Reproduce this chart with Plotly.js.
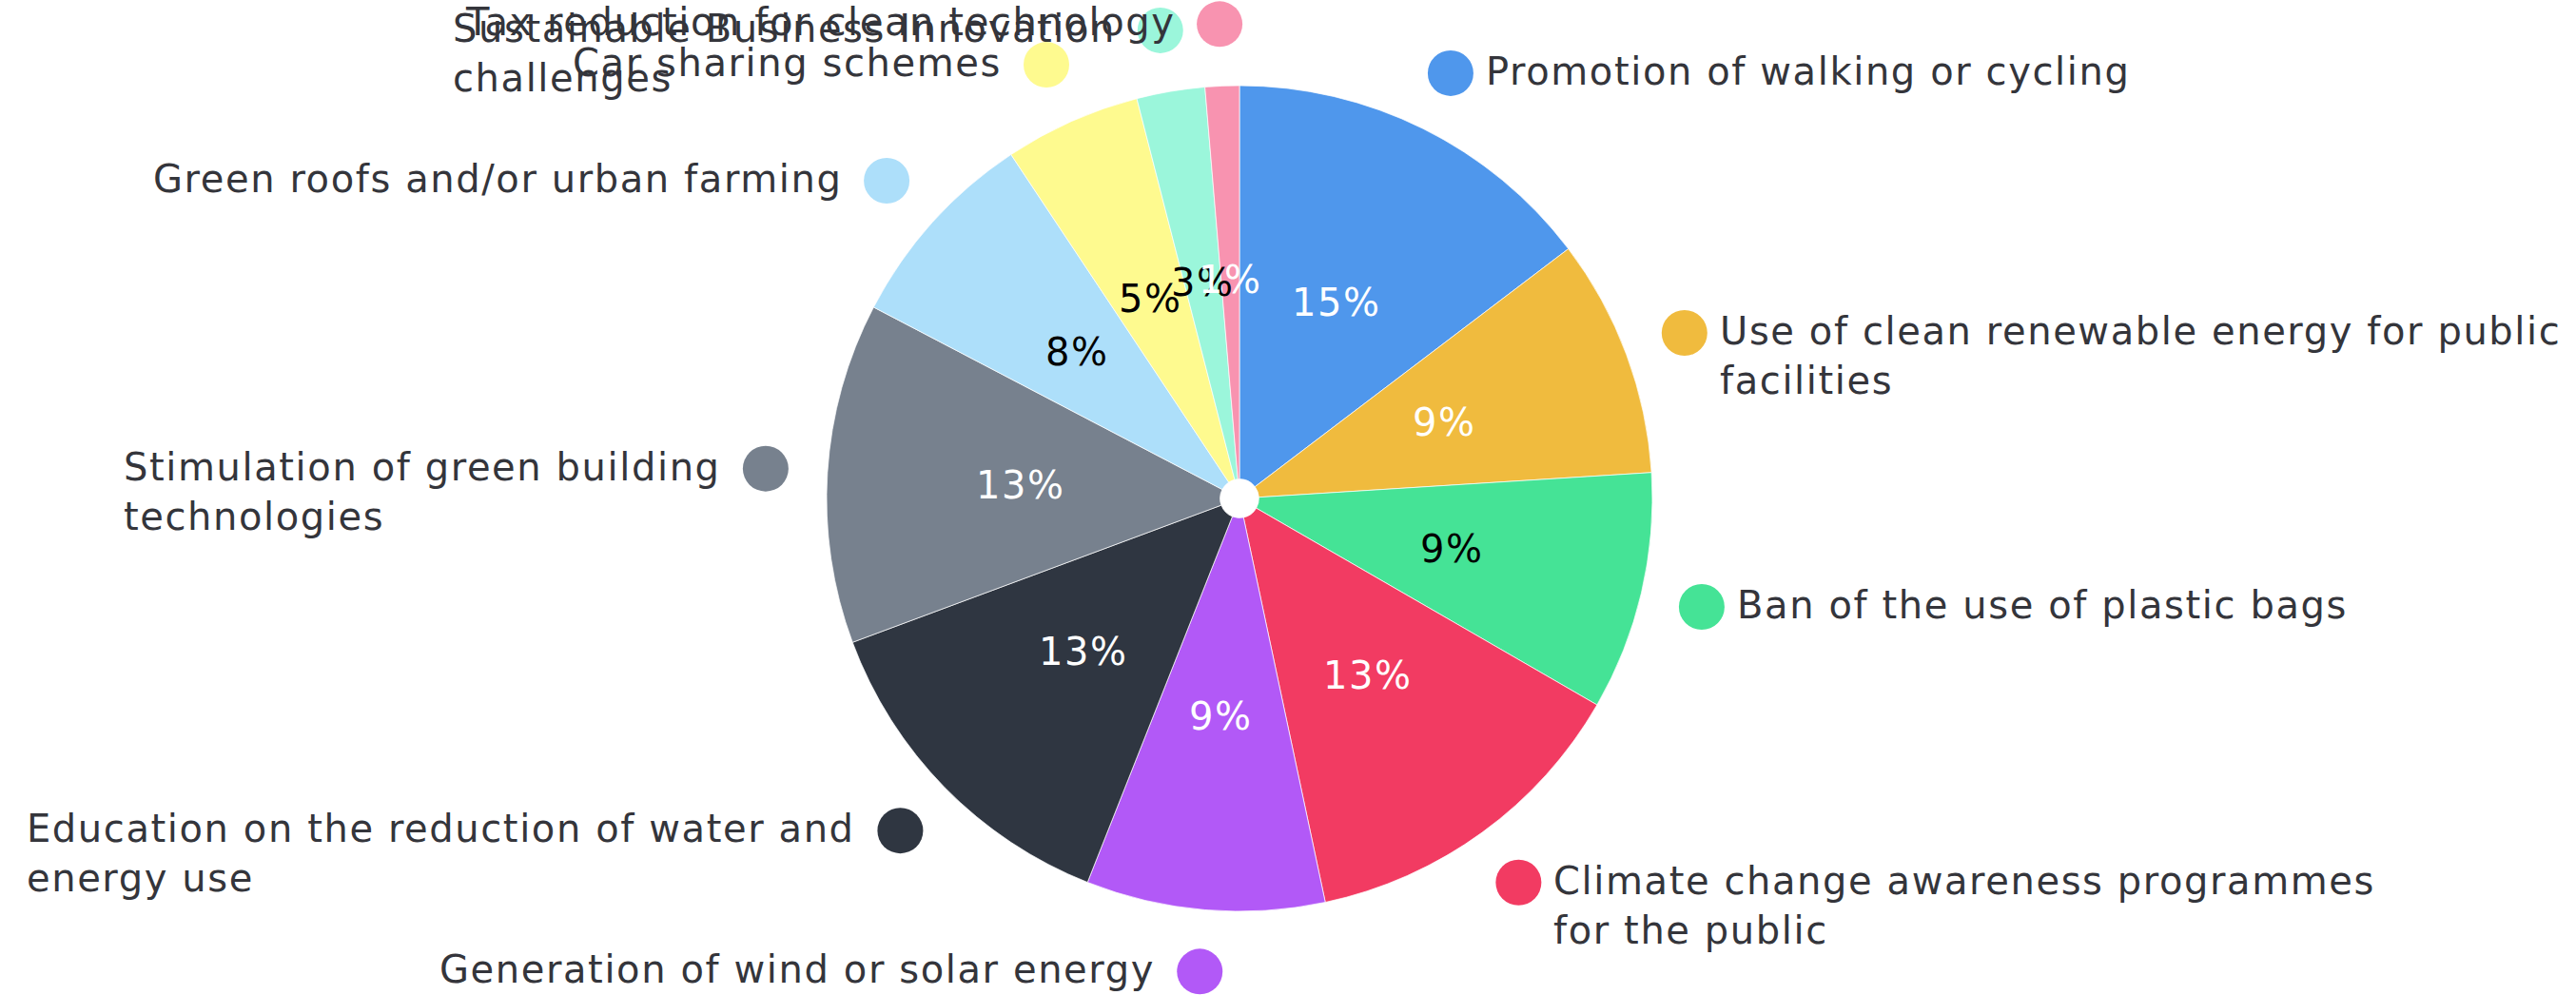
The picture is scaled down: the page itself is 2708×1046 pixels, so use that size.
<!DOCTYPE html>
<html>
<head>
<meta charset="utf-8">
<script src="https://cdn.plot.ly/plotly-3.0.1.min.js"></script>
<style>
html,body{margin:0;padding:0;background:#ffffff;overflow:hidden;}
.annotation-text{letter-spacing:1.6px;}
</style>
</head>
<body>
<div id="chart" style="width:2708px;height:1046px;"></div>
<script>
// ---- data ----
const categories = [
  "Promotion of walking or cycling",
  "Use of clean renewable energy for public facilities",
  "Ban of the use of plastic bags",
  "Climate change awareness programmes for the public",
  "Generation of wind or solar energy",
  "Education on the reduction of water and energy use",
  "Stimulation of green building technologies",
  "Green roofs and/or urban farming",
  "Car sharing schemes",
  "Sustainable Business Innovation challenges",
  "Tax reduction for clean technology"
];
const displayLabels = [
  "Promotion of walking or cycling",
  "Use of clean renewable energy for public<br>facilities",
  "Ban of the use of plastic bags",
  "Climate change awareness programmes<br>for the public",
  "Generation of wind or solar energy",
  "Education on the reduction of water and<br>energy use",
  "Stimulation of green building<br>technologies",
  "Green roofs and/or urban farming",
  "Car sharing schemes",
  "Sustainable Business Innovation<br>challenges",
  "Tax reduction for clean technology"
];
const counts = [11, 7, 7, 10, 7, 10, 10, 6, 4, 2, 1];
const sliceColors = ["#4F97EC", "#F0BB3E", "#45E396", "#F23B62", "#B259F7", "#2F3641",
                     "#77818E", "#ADDFFA", "#FEFA8F", "#9BF6DB", "#F893B0"];
const pctColors = ["#ffffff", "#ffffff", "#000000", "#ffffff", "#ffffff", "#ffffff",
                   "#ffffff", "#000000", "#000000", "#000000", "#ffffff"];

// ---- layout constants ----
const W = 2708, H = 1046, CX = 1303, CY = 524, R = 434;
const DOT_R = 1.15, PCT_R = 0.53;
const FONT = "DejaVu Sans";
const TEXT_COLOR = "#34353b";

const total = counts.reduce((a, b) => a + b, 0);
let cum = 0;
const mids = counts.map(v => { const m = (cum + v / 2) / total * 2 * Math.PI; cum += v; return m; });
const pctText = counts.map(v => Math.round(v / total * 100) + "%");

const dotX = mids.map(t => DOT_R * Math.sin(t));
const dotY = mids.map(t => DOT_R * Math.cos(t));

const annotations = [];
mids.forEach((t, i) => {
  const right = t < Math.PI;
  annotations.push({
    x: dotX[i], y: dotY[i], xref: "x", yref: "y",
    text: displayLabels[i], showarrow: false, align: "left",
    xanchor: right ? "left" : "right", yanchor: "top",
    xshift: right ? 36 : -46, yshift: 26, borderpad: 0,
    font: {family: FONT, size: 40, color: TEXT_COLOR}
  });
  annotations.push({
    x: PCT_R * Math.sin(t), y: PCT_R * Math.cos(t), xref: "x", yref: "y",
    text: pctText[i], showarrow: false,
    xanchor: "center", yanchor: "middle", borderpad: 0,
    font: {family: FONT, size: 40, color: pctColors[i]}
  });
});

const pie = {
  type: "pie",
  labels: categories,
  values: counts,
  sort: false,
  direction: "clockwise",
  rotation: 0,
  hole: 0.047,
  textinfo: "none",
  hoverinfo: "label+percent",
  marker: {colors: sliceColors, line: {color: "rgba(255,255,255,0.7)", width: 1}},
  domain: {x: [(CX - R) / W, (CX + R) / W], y: [(H - CY - R) / H, (H - CY + R) / H]},
  showlegend: false
};

const dots = {
  type: "scatter", mode: "markers",
  x: dotX, y: dotY, xaxis: "x", yaxis: "y",
  marker: {size: 48, color: sliceColors, line: {width: 0}},
  hoverinfo: "skip", showlegend: false
};

const layout = {
  width: W, height: H,
  margin: {l: 0, r: 0, t: 0, b: 0, pad: 0},
  paper_bgcolor: "#ffffff", plot_bgcolor: "rgba(0,0,0,0)",
  xaxis: {range: [-CX / R, (W - CX) / R], visible: false, fixedrange: true, domain: [0, 1]},
  yaxis: {range: [-(H - CY) / R, CY / R], visible: false, fixedrange: true, domain: [0, 1]},
  annotations: annotations,
  showlegend: false,
  font: {family: FONT, color: TEXT_COLOR}
};

Plotly.newPlot("chart", [dots, pie], layout, {displayModeBar: false, staticPlot: true});
</script>
</body>
</html>
